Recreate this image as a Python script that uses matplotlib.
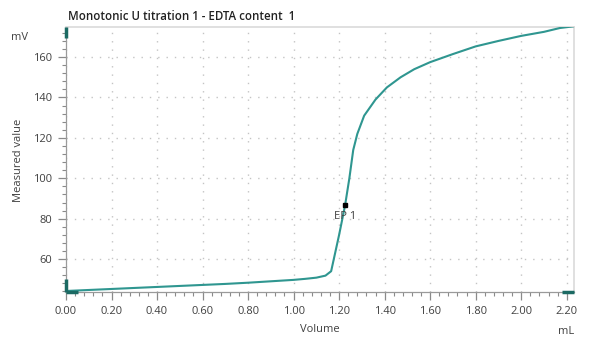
import matplotlib
matplotlib.use("Agg")
import matplotlib.pyplot as plt
from matplotlib.ticker import MultipleLocator

plt.rcParams['font.family'] = ['Open Sans', 'DejaVu Sans']

# Data
volume_ml = [0.00, 0.10, 0.20, 0.30, 0.40, 0.50, 0.60, 0.70, 0.80, 0.90, 1.00,
             1.05, 1.10, 1.14, 1.165, 1.20, 1.226, 1.245, 1.262, 1.28, 1.31,
             1.36, 1.41, 1.47, 1.53, 1.60, 1.70, 1.80, 1.90, 2.00, 2.10, 2.17, 2.235]
measured_mv = [44.2, 44.7, 45.2, 45.7, 46.2, 46.7, 47.2, 47.7, 48.3, 49.0, 49.7,
               50.2, 50.8, 51.8, 54.0, 72.0, 86.5, 100.0, 114.0, 122.0, 131.0,
               139.0, 145.0, 150.0, 154.0, 157.5, 161.5, 165.3, 168.0, 170.5, 172.5, 174.4, 175.3]
ep_volume = 1.226
ep_value = 86.7
ep_label = "EP 1"
title = "Monotonic U titration 1 - EDTA content  1"
x_ticks = [0.0, 0.2, 0.4, 0.6, 0.8, 1.0, 1.2, 1.4, 1.6, 1.8, 2.0, 2.2]
y_ticks = [60, 80, 100, 120, 140, 160]

fig = plt.figure(figsize=(6.06, 3.54), dpi=100)
ax = fig.add_axes([66/606, 1-292/354, (574-66)/606, (292-27)/354])

line_color = '#2f9690'
dark_teal = '#1b6a63'
txt = '#404040'

ax.plot(volume_ml, measured_mv, color=line_color, lw=1.5, solid_joinstyle='round', zorder=3)
ax.plot([ep_volume], [ep_value], marker='s', color='black', ms=3.5, zorder=4)
ax.text(ep_volume, ep_value - 3.0, ep_label, ha='center', va='top', fontsize=8, color=txt)

ax.set_xlim(0, 2.232)
ax.set_ylim(43.7, 174.9)
ax.set_xticks(x_ticks)
ax.set_xticklabels([f"{v:.2f}" for v in x_ticks])
ax.set_yticks(y_ticks)
ax.xaxis.set_minor_locator(MultipleLocator(0.04))
ax.yaxis.set_minor_locator(MultipleLocator(4))

ax.grid(True, which='major', linestyle=(0, (1, 5)), color='#c4c4c4', lw=1.0)
ax.tick_params(which='major', length=6, width=0.9, color='#8a8a8a', labelsize=8, labelcolor=txt, pad=4)
ax.tick_params(which='minor', length=3, width=0.8, color='#8a8a8a')

for s in ['left', 'bottom']:
    ax.spines[s].set_color('#9a9a9a')
    ax.spines[s].set_linewidth(0.9)
for s in ['top', 'right']:
    ax.spines[s].set_color('#dadada')
    ax.spines[s].set_linewidth(1.2)

# range-slider markers on the axes
ax.plot([0, 0], [0.0, 0.05], transform=ax.transAxes, color=dark_teal, lw=2.5, clip_on=False, solid_capstyle='butt', zorder=5)
ax.plot([0, 0], [0.96, 1.0], transform=ax.transAxes, color=dark_teal, lw=2.5, clip_on=False, solid_capstyle='butt', zorder=5)
ax.plot([0, 0.024], [0, 0], transform=ax.transAxes, color=dark_teal, lw=2.5, clip_on=False, solid_capstyle='butt', zorder=5)
ax.plot([0.976, 1.0], [0, 0], transform=ax.transAxes, color=dark_teal, lw=2.5, clip_on=False, solid_capstyle='butt', zorder=5)

fig.text(68/606, 1-16/354, title, ha='left', va='center', fontsize=8.3, color='#222222', fontweight='semibold')
fig.text(20/606, 1-37/354, "mV", ha='center', va='center', fontsize=8, color=txt)
fig.text(566/606, 1-331/354, "mL", ha='center', va='center', fontsize=8, color=txt)
fig.text(320/606, 1-329/354, "Volume", ha='center', va='center', fontsize=8, color=txt)
fig.text(19/606, 1-160/354, "Measured value", ha='center', va='center', rotation=90, fontsize=8, color=txt)

fig.savefig('out.png', dpi=100, facecolor='white')
